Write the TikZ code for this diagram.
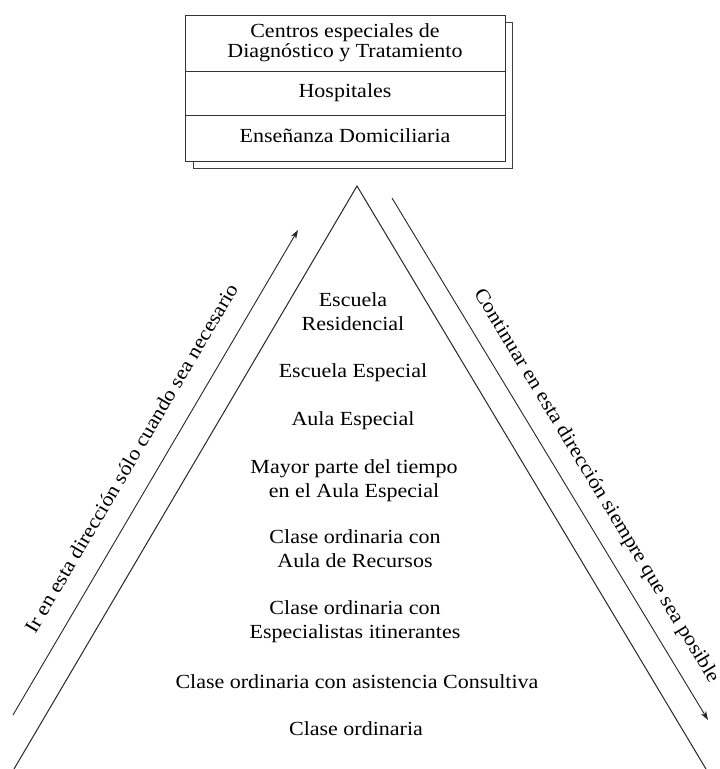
\documentclass[tikz,border=0pt]{standalone}
\usepackage{fontspec}
\setmainfont{Liberation Serif}[FakeStretch=1.1]
\usetikzlibrary{arrows.meta}
\tikzset{
  levtext/.style={inner sep=0pt, align=center, font=\fontsize{20}{24}\selectfont, text=black},
  cell/.style={draw=black!80, line width=0.9pt, fill=white, minimum width=320pt, inner sep=0pt, align=center, font=\fontsize{20}{20}\selectfont, text=black},
  shadowbox/.style={draw=black!75, line width=0.9pt, fill=white},
  side/.style={draw=black!85, line width=1pt},
  dirarrow/.style={draw=black!85, line width=0.9pt, -{Stealth[length=9pt,width=6pt]}},
  dirtext/.style={sloped, inner sep=0pt, text depth=0pt, font=\fontsize{20}{24}\selectfont, text=black}
}
\begin{document}
\begin{tikzpicture}[x=1pt,y=-1pt]
\useasboundingbox (0,0) rectangle (720,769);
% top stacked box
\path[shadowbox] (193,22) rectangle (512,168);
\node[cell, minimum height=56pt] (c1) at (345,43) {Centros especiales de\strut\\Diagnóstico y Tratamiento\strut};
\node[cell, minimum height=44pt] (c2) at (345,93) {Hospitales\strut};
\node[cell, minimum height=46pt] (c3) at (345,138) {Enseñanza Domiciliaria\strut};
% triangle
\coordinate (apex) at (357,186);
\coordinate (bl) at (14,769);
\coordinate (br) at (706,769);
\draw[side] (bl) -- (apex) -- (br);
% arrows
\coordinate (la0) at (13,715);
\coordinate (la1) at (298,230);
\coordinate (ra0) at (392,198);
\coordinate (ra1) at (708,720);
\draw[dirarrow] (la0) -- (la1) node[dirtext, pos=0.5, above=21pt] (lt) {Ir en esta dirección sólo cuando sea necesario};
\draw[dirarrow] (ra0) -- (ra1) node[dirtext, pos=0.577, above=20pt] (rt) {Continuar en esta dirección siempre que sea posible};
% levels
\node[levtext] (l1) at (353,313.2) {Escuela\strut\\Residencial\strut};
\node[levtext] (l2) at (353,372.2) {Escuela Especial\strut};
\node[levtext] (l3) at (353,420.2) {Aula Especial\strut};
\node[levtext] (l4) at (354,480.2) {Mayor parte del tiempo\strut\\en el Aula Especial\strut};
\node[levtext] (l5) at (355,550.2) {Clase ordinaria con\strut\\Aula de Recursos\strut};
\node[levtext] (l6) at (355,621.2) {Clase ordinaria con\strut\\Especialistas itinerantes\strut};
\node[levtext] (l7) at (357,683.2) {Clase ordinaria con asistencia Consultiva\strut};
\node[levtext] (l8) at (356,730.2) {Clase ordinaria\strut};
\end{tikzpicture}
\end{document}
